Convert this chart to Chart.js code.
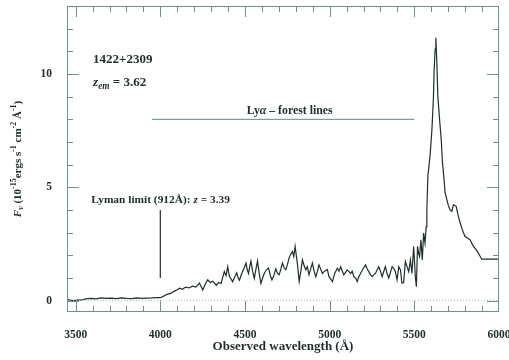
<!DOCTYPE html>
<html>
<head>
<meta charset="utf-8">
<script src="https://cdn.jsdelivr.net/npm/chart.js@4.4.0/dist/chart.umd.min.js"></script>
<style>
  html, body { margin: 0; padding: 0; background: #fff; }
  #wrap { width: 509px; height: 360px; position: relative; }
</style>
</head>
<body>
<div id="wrap"><canvas id="spec"></canvas></div>
<script>
// spectrum of 1422+2309, flux in 1e-15 erg/s/cm2/A
var wavelength = [3449,3470,3490,3510,3530,3560,3590,3620,3650,3680,3710,3740,3770,3800,3830,3860,3890,3920,3950,3980,
  4000,4020,4040,4060,4084,4100,4114,4130,4150,4170,4190,4210,4231,4251,4265,4280,4295,4310,4330,4345,4359,4378,4388,4398,
  4408,4418,4427,4440,4451,4460,4467,4476,4486,4496,4506,4514,4521,4528,4535,4545,4555,4565,4574,4584,4594,4604,4614,4626,
  4639,4650,4659,4670,4682,4692,4702,4712,4721,4731,4741,4751,4761,4770,4780,4788,4796,4803,4810,4820,4830,4839,4849,4859,
  4868,4878,4888,4898,4908,4918,4928,4937,4947,4957,4970,4986,4996,5006,5016,5030,5045,5055,5065,5075,5084,5094,5104,5114,
  5124,5133,5143,5153,5163,5172,5182,5197,5212,5222,5231,5241,5251,5260,5270,5280,5290,5300,5310,5320,5329,5339,5349,5359,
  5369,5378,5388,5398,5408,5418,5427,5437,5447,5457,5467,5477,5486,5496,5506,5512,5519,5525,5531,5539,5547,5555,5563,5570,
  5574,5580,5590,5594,5604,5613,5617,5623,5627,5633,5639,5649,5659,5666,5672,5682,5692,5701,5711,5721,5731,5740,5747,5760,
  5770,5780,5790,5800,5815,5829,5849,5865,5878,5898,5927,5966,6000];
var flux = [0.05,0.02,0.0,0.03,0.02,0.08,0.1,0.08,0.12,0.1,0.11,0.09,0.12,0.1,0.09,0.12,0.1,0.11,0.12,0.14,
  0.13,0.2,0.28,0.32,0.42,0.48,0.55,0.5,0.6,0.56,0.64,0.6,0.78,0.47,0.72,0.92,0.8,0.86,0.68,0.8,0.76,1.28,1.1,1.5,
  1.06,0.95,0.84,1.05,1.22,1.0,0.9,1.1,1.3,1.45,1.66,1.35,1.2,1.5,1.74,1.3,0.98,1.4,1.75,1.2,0.76,1.0,1.2,1.35,
  1.44,1.1,0.92,1.1,1.4,1.2,1.14,1.4,1.66,1.45,1.36,1.6,1.9,2.05,2.17,1.95,2.4,2.0,1.6,0.84,1.3,1.8,1.55,1.36,
  1.5,1.14,1.4,1.66,1.3,1.06,1.3,1.58,1.4,1.2,1.3,1.38,1.06,0.96,0.84,1.2,1.43,1.3,1.5,1.3,1.14,1.25,1.36,1.28,
  1.2,1.3,1.06,1.0,0.84,1.05,1.2,1.4,1.58,1.4,1.28,1.15,1.06,1.14,1.2,1.35,1.5,1.3,1.06,1.3,1.5,1.2,1.0,1.25,
  1.5,1.43,1.28,0.92,1.5,1.36,0.77,0.8,1.73,1.5,1.28,1.8,1.2,2.39,1.06,0.62,2.4,2.1,1.95,2.69,1.8,2.98,2.54,3.27,
  4.0,5.5,6.2,6.5,7.55,9.0,10.2,11.1,11.6,10.5,9.0,8.0,7.1,6.1,5.64,4.75,4.46,4.2,4.0,3.94,4.23,4.2,4.16,3.72,
  3.45,3.2,3.0,2.83,2.75,2.69,2.39,2.25,2.1,1.83,1.83,1.83,1.83];

// marker lines
var lymanX = [4000, 4000];
var lymanY = [1.0, 4.0];
var forestX = [3950, 5500];
var forestY = [8.0, 8.0];
var zeroX = [3449, 6000];
var zeroY = [0, 0];

var xTicks = [3500, 4000, 4500, 5000, 5500, 6000];
var yTicks = [0, 5, 10];

var inkColor = '#1f2d2d';
var frameColor = '#6f8f8f';
var serif = '"Liberation Serif", "DejaVu Serif", serif';

function pts(xs, ys) {
    return xs.map(function(x, i){ return {x: x, y: ys[i]}; });
}

// draw text made of pieces, some italic / sub / superscript
function drawRich(ctx, x, y, parts, size, align) {
    var w = 0;
    parts.forEach(function(p){
        var s = (p.sub || p.sup) ? size * 0.72 : size;
        ctx.font = (p.italic ? 'italic ' : '') + 'bold ' + s + 'px ' + serif;
        p.w = ctx.measureText(p.t).width;
        p.s = s;
        w += p.w;
    });
    var cx = align === 'center' ? x - w / 2 : x;
    ctx.textBaseline = 'middle';
    ctx.textAlign = 'left';
    parts.forEach(function(p){
        ctx.font = (p.italic ? 'italic ' : '') + 'bold ' + p.s + 'px ' + serif;
        var dy = p.sub ? size * 0.3 : (p.sup ? -size * 0.38 : 0);
        ctx.fillText(p.t, cx, y + dy);
        cx += p.w;
    });
}

var framePlugin = {
    id: 'frame',
    afterDraw: function(chart) {
        var ctx = chart.ctx;
        var a = chart.chartArea;
        var xs = chart.scales.x, ys = chart.scales.y;
        ctx.save();
        ctx.strokeStyle = frameColor;
        ctx.lineWidth = 1;
        ctx.strokeRect(a.left + 0.5, a.top + 0.5, a.right - a.left - 1, a.bottom - a.top - 1);
        ctx.beginPath();
        // inward ticks, 100 A minor, 500 A major
        for (var w = 3500; w <= 6000; w += 100) {
            var px = Math.round(xs.getPixelForValue(w)) + 0.5;
            if (px < a.left || px > a.right) continue;
            var len = (w % 500 === 0) ? 11 : 6;
            ctx.moveTo(px, a.bottom); ctx.lineTo(px, a.bottom - len);
            ctx.moveTo(px, a.top); ctx.lineTo(px, a.top + len);
        }
        for (var f = 0; f <= 13; f += 1) {
            var py = Math.round(ys.getPixelForValue(f)) + 0.5;
            if (py < a.top + 2) continue;
            var l2 = (f % 5 === 0) ? 12 : 6;
            ctx.moveTo(a.left, py); ctx.lineTo(a.left + l2, py);
            ctx.moveTo(a.right, py); ctx.lineTo(a.right - l2, py);
        }
        ctx.stroke();

        ctx.fillStyle = inkColor;
        drawRich(ctx, xs.getPixelForValue(3603), ys.getPixelForValue(10.65), [{t: '1422+2309'}], 13, 'left');
        drawRich(ctx, xs.getPixelForValue(3603), ys.getPixelForValue(9.6),
            [{t: 'z', italic: true}, {t: 'em', italic: true, sub: true}, {t: ' = 3.62'}], 13, 'left');
        drawRich(ctx, xs.getPixelForValue(3592), ys.getPixelForValue(4.45),
            [{t: 'Lyman limit (912'}, {t: 'Å'}, {t: '): '}, {t: 'z', italic: true}, {t: ' = 3.39'}], 11.4, 'left');
        drawRich(ctx, xs.getPixelForValue(4510), ys.getPixelForValue(8.38),
            [{t: 'Ly'}, {t: 'α', italic: true}, {t: ' – forest lines'}], 11.8, 'left');

        // axis titles
        drawRich(ctx, (a.left + a.right) / 2, 347, [{t: 'Observed wavelength (Å)'}], 13, 'center');
        ctx.translate(18, (a.top + a.bottom) / 2);
        ctx.rotate(-Math.PI / 2);
        drawRich(ctx, 0, 0, [
            {t: 'F', italic: true}, {t: 'ν', italic: true, sub: true}, {t: ' (10'}, {t: '-15', sup: true},
            {t: 'ergs s'}, {t: '-1', sup: true}, {t: ' cm'}, {t: '-2', sup: true}, {t: ' Å'}, {t: '-1', sup: true}, {t: ')'}
        ], 11, 'center');
        ctx.restore();
    }
};

var ctx = document.getElementById('spec');
var myChart = new Chart(ctx, {
    type: 'line',
    data: {
        datasets: [{
            label: 'zero',
            data: pts(zeroX, zeroY),
            borderColor: '#9fbaba',
            borderWidth: 1,
            borderDash: [1, 2],
            pointRadius: 0
        }, {
            label: 'forest',
            data: pts(forestX, forestY),
            borderColor: '#5f8a8a',
            borderWidth: 1,
            pointRadius: 0
        }, {
            label: 'lyman',
            data: pts(lymanX, lymanY),
            borderColor: inkColor,
            borderWidth: 1.2,
            pointRadius: 0
        }, {
            label: 'spectrum',
            data: pts(wavelength, flux),
            borderColor: inkColor,
            borderWidth: 1.2,
            pointRadius: 0,
            tension: 0
        }]
    },
    options: {
        responsive: true,
        maintainAspectRatio: false,
        animation: false,
        layout: { padding: { top: 6, right: 10, left: 0, bottom: 0 } },
        plugins: { legend: { display: false }, tooltip: { enabled: false } },
        scales: {
            x: {
                type: 'linear',
                min: 3449,
                max: 6000,
                grid: { display: false },
                border: { display: false },
                afterBuildTicks: function(s){ s.ticks = xTicks.map(function(v){ return {value: v}; }); },
                afterFit: function(s){ s.height = 48; s.paddingLeft = 0; s.paddingRight = 0; },
                ticks: {
                    autoSkip: false,
                    maxRotation: 0,
                    padding: 8,
                    color: inkColor,
                    font: { family: serif, size: 11.5, weight: 'bold' },
                    callback: function(v){ return String(v); }
                }
            },
            y: {
                min: -0.5,
                max: 13,
                grid: { display: false },
                border: { display: false },
                afterBuildTicks: function(s){ s.ticks = yTicks.map(function(v){ return {value: v}; }); },
                afterFit: function(s){ s.width = 67; s.paddingTop = 0; s.paddingBottom = 0; },
                ticks: {
                    padding: 7,
                    color: inkColor,
                    font: { family: serif, size: 11.5, weight: 'bold' },
                    callback: function(v){ return String(v); }
                }
            }
        }
    },
    plugins: [framePlugin]
});
</script>
</body>
</html>
